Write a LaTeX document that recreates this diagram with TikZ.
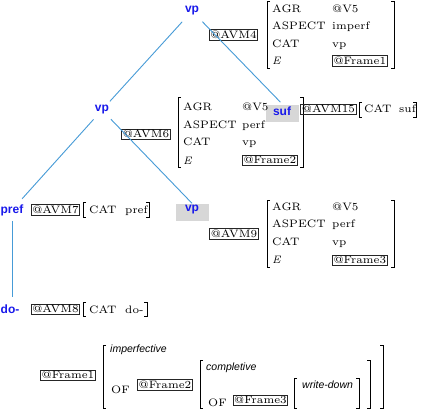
\documentclass[tikz,border=0pt]{standalone}
\usepackage{fontspec}
\newfontfamily\lsans{Liberation Sans}
\newfontfamily\avmfont{lmroman6-regular.otf}[ItalicFont=lmroman7-italic.otf]
\usetikzlibrary{calc}
\definecolor{edgeblue}{RGB}{70,155,215}
\definecolor{lblblue}{RGB}{25,25,235}
\definecolor{hlgray}{RGB}{215,215,215}
\newcommand\brkL[3]{\draw[brk] ({#1+3},#2) -- (#1,#2) -- (#1,#3) -- ({#1+3},#3);}
\newcommand\brkR[3]{\draw[brk] ({#1-3},#2) -- (#1,#2) -- (#1,#3) -- ({#1-3},#3);}
\begin{document}
\begin{tikzpicture}[x=1pt,y=-1pt,
 avm/.style={font=\avmfont\fontsize{10.8}{12}\selectfont, anchor=base west, inner sep=0pt},
 tagbox/.style={draw=black!85, line width=0.9pt, font=\avmfont\fontsize{10.8}{12}\selectfont, inner sep=1.1pt, text height=7.6pt, text depth=1pt},
 lbl/.style={font=\lsans\bfseries\fontsize{12}{14}\selectfont, text=lblblue, inner sep=1pt},
 hl/.style={fill=hlgray, minimum width=33pt, minimum height=17pt},
 edge/.style={draw=edgeblue, line width=0.9pt},
 brk/.style={line width=0.7pt},
 ital/.style={font=\lsans\itshape\fontsize{10.5}{12}\selectfont, anchor=base west, inner sep=0pt}]
\useasboundingbox[fill=white] (0,0) rectangle (422,410);

% highlighted backgrounds
\node[hl] (sufbg) at (282.5,113) {};
\node[hl] (vp3bg) at (192,212) {};

% tree labels
\node[lbl] (vp1) at (192,11) {vp};
\node[lbl] (vp2) at (102,110) {vp};
\node[lbl] (suf) at (282,111) {suf};
\node[lbl] (pref) at (12,210) {pref};
\node[lbl] (vp3) at (192,210) {vp};
\node[lbl] (do) at (10,309) {do-};

% AVM4
\node[tagbox] (avm4) at (233.5,34.8) {@AVM4};
\brkL{267}{1}{68}\brkR{394}{1}{68}
\node[avm] (a4r1) at (272,12.8) {AGR};      \node[avm] (a4v1) at (332,12.8) {@V5};
\node[avm] (a4r2) at (272,29.8) {ASPECT};   \node[avm] (a4v2) at (332,29.8) {imperf};
\node[avm] (a4r3) at (272,47) {CAT};        \node[avm] (a4v3) at (332,47) {vp};
\node[avm] (a4r4) at (272,64.3) {\itshape E};
\node[tagbox, anchor=west] (f1a) at (332,61) {@Frame1};

% AVM6
\node[tagbox] (avm6) at (146,134.5) {@AVM6};
\brkL{178}{97}{167}\brkR{303}{97}{167}
\node[avm] (a6r1) at (183,110.7) {AGR};     \node[avm] (a6v1) at (242,110.7) {@V5};
\node[avm] (a6r2) at (183,128.3) {ASPECT};  \node[avm] (a6v2) at (242,128.3) {perf};
\node[avm] (a6r3) at (183,145.5) {CAT};     \node[avm] (a6v3) at (242,145.5) {vp};
\node[avm] (a6r4) at (183,164) {\itshape E};
\node[tagbox, anchor=west] (f2a) at (242,160.5) {@Frame2};

% AVM15
\node[tagbox] (avm15) at (328.5,109.5) {@AVM15};
\brkL{359}{102}{117}\brkR{416}{102}{117}
\node[avm] (a15r) at (364,112.7) {CAT};     \node[avm] (a15v) at (399,112.7) {suf};

% AVM7
\node[tagbox] (avm7) at (55.5,209.8) {@AVM7};
\brkL{83}{202}{217}\brkR{149}{202}{217}
\node[avm] (a7r) at (89,213.3) {CAT};       \node[avm] (a7v) at (125,213.3) {pref};

% AVM9
\node[tagbox] (avm9) at (234,233.8) {@AVM9};
\brkL{267}{200}{267}\brkR{394}{200}{267}
\node[avm] (a9r1) at (272,210.7) {AGR};     \node[avm] (a9v1) at (332,210.7) {@V5};
\node[avm] (a9r2) at (272,227.7) {ASPECT};  \node[avm] (a9v2) at (332,227.7) {perf};
\node[avm] (a9r3) at (272,245) {CAT};       \node[avm] (a9v3) at (332,245) {vp};
\node[avm] (a9r4) at (272,263.3) {\itshape E};
\node[tagbox, anchor=west] (f3a) at (332,260.5) {@Frame3};

% AVM8
\node[tagbox] (avm8) at (55.5,309.5) {@AVM8};
\brkL{83}{302}{316}\brkR{147}{302}{316}
\node[avm] (a8r) at (89,313.3) {CAT};       \node[avm] (a8v) at (125,313.3) {do-};

% frames
\node[tagbox] (f1b) at (68,375.5) {@Frame1};
\brkL{103}{345}{408}\brkR{383}{345}{408}
\node[ital] (imp) at (110,352) {imperfective};
\node[avm] (of1) at (111,393) {OF};
\node[tagbox] (f2b) at (165,385) {@Frame2};
\brkL{200}{360}{408}\brkR{370}{360}{408}
\node[ital] (comp) at (206,370) {completive};
\node[avm] (of2) at (208,406.5) {OF};
\node[tagbox] (f3b) at (260.5,400.5) {@Frame3};
\brkL{294}{378}{408}\brkR{359}{378}{408}
\node[ital] (wd) at (302,388) {write-down};

% tree edges
\draw[edge, shorten <=7pt, shorten >=4pt] (vp1) -- (vp2);
\draw[edge, shorten <=7pt, shorten >=3pt] (vp1) -- (sufbg.north);
\draw[edge, shorten <=5pt, shorten >=6pt] (vp2) -- (pref);
\draw[edge, shorten <=5pt, shorten >=0pt] (vp2) -- (vp3bg.north);
\draw[edge, shorten <=4pt, shorten >=6pt] (pref.south) -- (pref.south |- do.north);
\end{tikzpicture}
\end{document}
